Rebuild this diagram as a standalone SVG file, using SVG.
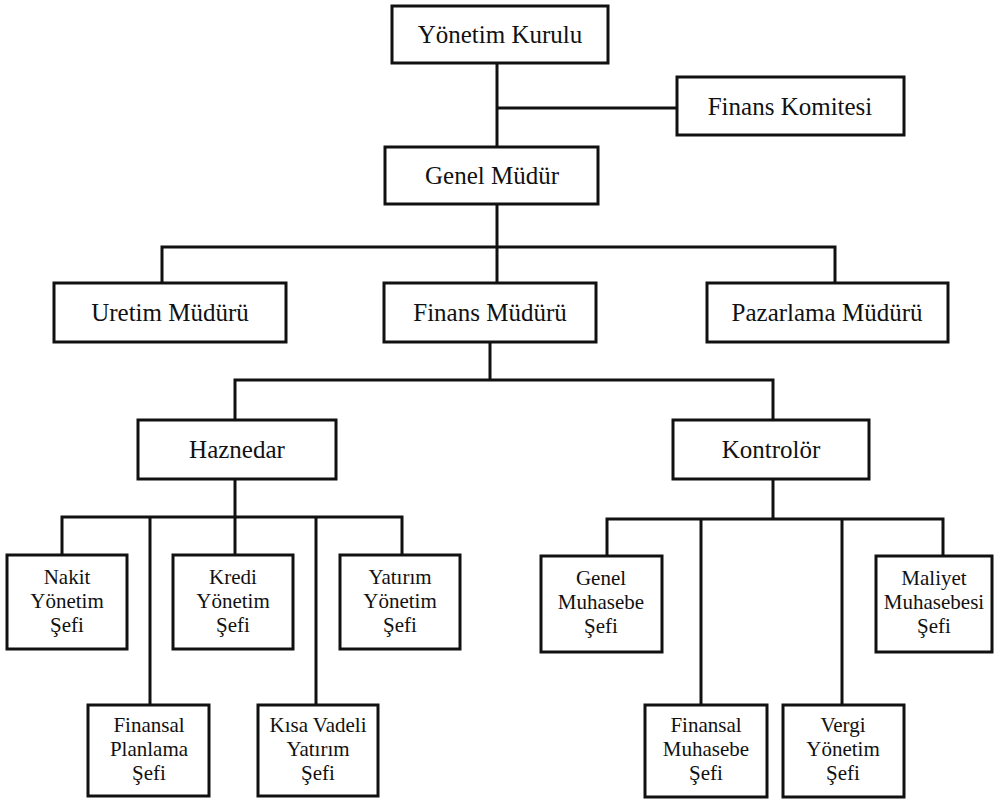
<svg xmlns="http://www.w3.org/2000/svg" width="999" height="800" viewBox="0 0 999 800">
  <style>
    .box { fill: #ffffff; stroke: #111111; stroke-width: 3; }
    .link { fill: none; stroke: #111111; stroke-width: 3; }
    .lbl { font-family: "Liberation Serif", "Times New Roman", serif; font-size: 25px; fill: #111111; text-anchor: middle; }
    .sm { font-family: "Liberation Serif", "Times New Roman", serif; font-size: 21px; fill: #111111; text-anchor: middle; }
  </style>
  <rect width="999" height="800" fill="#ffffff"/>

  <!-- connectors -->
  <g id="connectors" class="link">
    <path d="M497 63 V147"/>
    <path d="M497 108 H677"/>
    <path d="M497 204 V283"/>
    <path d="M162 283 V247 H835 V283"/>
    <path d="M490 342 V380"/>
    <path d="M235 420 V380 H773 V420"/>
    <path d="M235 479 V555"/>
    <path d="M62 555 V517 H402 V555"/>
    <path d="M150 517 V705"/>
    <path d="M316 517 V705"/>
    <path d="M773 479 V519"/>
    <path d="M607 556 V519 H943 V556"/>
    <path d="M701 519 V705"/>
    <path d="M842 519 V705"/>
  </g>

  <!-- top management -->
  <g id="yonetim-kurulu">
    <rect class="box" x="392" y="6" width="216" height="57"/>
    <text class="lbl" x="500" y="43">Yönetim Kurulu</text>
  </g>
  <g id="finans-komitesi">
    <rect class="box" x="677" y="77" width="227" height="58"/>
    <text class="lbl" x="790" y="115">Finans Komitesi</text>
  </g>
  <g id="genel-mudur">
    <rect class="box" x="385" y="147" width="213" height="57"/>
    <text class="lbl" x="492" y="184">Genel Müdür</text>
  </g>

  <!-- directors -->
  <g id="uretim-muduru">
    <rect class="box" x="54" y="283" width="232" height="59"/>
    <text class="lbl" x="170" y="321">Uretim Müdürü</text>
  </g>
  <g id="finans-muduru">
    <rect class="box" x="384" y="283" width="212" height="59"/>
    <text class="lbl" x="490" y="321">Finans Müdürü</text>
  </g>
  <g id="pazarlama-muduru">
    <rect class="box" x="707" y="283" width="241" height="59"/>
    <text class="lbl" x="827" y="321">Pazarlama Müdürü</text>
  </g>

  <!-- finance branches -->
  <g id="haznedar">
    <rect class="box" x="138" y="420" width="198" height="59"/>
    <text class="lbl" x="237" y="458">Haznedar</text>
  </g>
  <g id="kontrolor">
    <rect class="box" x="673" y="420" width="196" height="59"/>
    <text class="lbl" x="771" y="458">Kontrolör</text>
  </g>

  <!-- treasury units -->
  <g id="nakit-yonetim">
    <rect class="box" x="7" y="555" width="120" height="94"/>
    <text class="sm" x="67" y="584">Nakit</text>
    <text class="sm" x="67" y="608">Yönetim</text>
    <text class="sm" x="67" y="632">Şefi</text>
  </g>
  <g id="kredi-yonetim">
    <rect class="box" x="173" y="555" width="120" height="94"/>
    <text class="sm" x="233" y="584">Kredi</text>
    <text class="sm" x="233" y="608">Yönetim</text>
    <text class="sm" x="233" y="632">Şefi</text>
  </g>
  <g id="yatirim-yonetim">
    <rect class="box" x="340" y="555" width="120" height="94"/>
    <text class="sm" x="400" y="584">Yatırım</text>
    <text class="sm" x="400" y="608">Yönetim</text>
    <text class="sm" x="400" y="632">Şefi</text>
  </g>
  <g id="finansal-planlama">
    <rect class="box" x="88" y="705" width="121" height="91"/>
    <text class="sm" x="149" y="732">Finansal</text>
    <text class="sm" x="149" y="756">Planlama</text>
    <text class="sm" x="149" y="780">Şefi</text>
  </g>
  <g id="kisa-vadeli-yatirim">
    <rect class="box" x="258" y="705" width="120" height="91"/>
    <text class="sm" x="318" y="732">Kısa Vadeli</text>
    <text class="sm" x="318" y="756">Yatırım</text>
    <text class="sm" x="318" y="780">Şefi</text>
  </g>

  <!-- accounting units -->
  <g id="genel-muhasebe">
    <rect class="box" x="541" y="556" width="121" height="96"/>
    <text class="sm" x="601" y="585">Genel</text>
    <text class="sm" x="601" y="609">Muhasebe</text>
    <text class="sm" x="601" y="633">Şefi</text>
  </g>
  <g id="maliyet-muhasebesi">
    <rect class="box" x="876" y="556" width="116" height="96"/>
    <text class="sm" x="934" y="585">Maliyet</text>
    <text class="sm" x="934" y="609">Muhasebesi</text>
    <text class="sm" x="934" y="633">Şefi</text>
  </g>
  <g id="finansal-muhasebe">
    <rect class="box" x="645" y="705" width="122" height="92"/>
    <text class="sm" x="706" y="732">Finansal</text>
    <text class="sm" x="706" y="756">Muhasebe</text>
    <text class="sm" x="706" y="780">Şefi</text>
  </g>
  <g id="vergi-yonetim">
    <rect class="box" x="783" y="705" width="121" height="92"/>
    <text class="sm" x="843" y="732">Vergi</text>
    <text class="sm" x="843" y="756">Yönetim</text>
    <text class="sm" x="843" y="780">Şefi</text>
  </g>
</svg>
